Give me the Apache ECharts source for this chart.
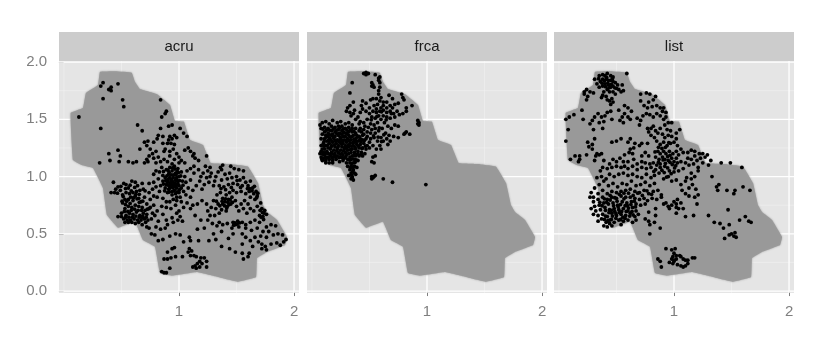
<!DOCTYPE html>
<html><head><meta charset="utf-8">
<script src="https://cdn.jsdelivr.net/npm/echarts@6/dist/echarts.min.js"></script>
<style>html,body{margin:0;background:#fff}#c{width:817px;height:350px}</style></head>
<body><div id="c"></div>
<script>
const panels = ['acru','frca','list'];
const xTicks = [1,2];
const yTicks = [0,0.5,1,1.5,2];
const xMajor = [1,2];
const xMinor = [0,0.5,1.5];
const yMajor = [0,0.5,1,1.5,2];
const yMinor = [0.25,0.75,1.25,1.75];
const outline = [[.313,1.915],[.45,1.92],[.589,1.907],[.617,1.828],[.661,1.764],[.806,1.72],[.922,1.624],[.965,1.485],[1.043,1.479],[1.096,1.319],[1.209,1.275],[1.276,1.118],[1.443,1.109],[1.6,1.086],[1.687,.943],[1.73,.751],[1.765,.69],[1.852,.62],[1.939,.472],[1.922,.402],[1.765,.341],[1.678,.288],[1.67,.122],[1.513,.081],[1.33,.125],[1.157,.166],[.939,.134],[.835,.157],[.791,.387],[.687,.445],[.617,.605],[.47,.553],[.374,.664],[.339,.9],[.252,1.074],[.154,1.1],[.078,1.144],[.058,1.555],[.165,1.598],[.191,1.729],[.296,1.799]];
const acru = [[.13,1.52],[.32,1.79],[.34,1.82],[.41,1.78],[.39,1.76],[.41,1.75],[.47,1.81],[.34,1.68],[.51,1.67],[.52,1.61],[.32,1.42],[.64,1.45],[.68,1.4],[.84,1.67],[.89,1.57],[.88,1.55],[.85,1.52],[.91,1.44],[.94,1.45],[.84,1.42],[1.01,1.42],[1.04,1.38],[1.07,1.35],[.39,1.2],[.47,1.23],[.49,1.18],[.4,1.14],[.48,1.13],[.31,1.12],[.56,1.13],[.6,1.12],[.63,1.13],[.66,1.24],[.7,1.3],[.73,1.31],[.78,1.3],[.81,1.33],[.86,1.35],[.82,1.36],[.72,1.27],[.75,1.24],[.74,1.18],[.72,1.15],[.7,1.12],[.73,1.13],[.77,1.2],[.78,1.16],[.8,1.22],[.82,1.17],[.8,1.12],[.84,1.13],[.87,1.15],[.88,1.24],[.86,1.29],[.9,1.29],[.93,1.29],[.96,1.28],[.92,1.35],[.94,1.33],[.96,1.36],[.98,1.34],[.91,1.32],[.87,1.22],[.92,1.22],[.95,1.24],[.98,1.2],[.92,1.18],[.96,1.15],[1,1.17],[1.02,1.14],[1.05,1.12],[1,1.12],[.9,1.13],[.94,1.11],[1.05,1.23],[1.08,1.25],[1.1,1.22],[1.12,1.18],[1.14,1.16],[1.17,1.14],[1.13,1.2],[1.24,1.18],
[1.27,1.08],[1.36,1.08],[1.38,1.1],[1.37,1.06],[1.45,1.09],[1.48,1.07],[1.52,1.06],[1.56,1.05],[1.28,1.03],[1.32,1],[1.34,1.04],[1.31,.96],[1.37,.97],[1.4,1.02],[1.42,.98],[1.44,1.03],[1.46,.99],[1.47,.94],[1.43,.93],[1.39,.91],[1.35,.92],[1.3,.92],[1.26,.95],[1.22,.93],[1.18,.96],[1.2,.89],[1.15,.92],[1.12,.88],[1.08,.9],[1.06,.95],[1.1,.97],[1.5,1],[1.53,.97],[1.56,.99],[1.51,.93],[1.55,.92],[1.58,.95],[1.6,.92],[1.62,.96],[1.64,.9],[1.61,.87],[1.65,.85],[1.68,.83],[1.67,.87],[1.66,.8],[1.62,.82],[1.58,.85],[1.54,.87],[1.5,.86],[1.47,.88],[1.44,.86],[1.41,.84],[1.38,.81],[1.36,.86],[1.33,.84],[1.4,.78],[1.43,.8],[1.46,.82],[1.49,.79],[1.42,.74],[1.38,.76],[1.45,.76],[1.41,.7],[1.37,.71],[1.34,.76],[1.3,.79],[1.32,.72],[1.28,.73],[1.25,.7],[1.27,.66],[1.31,.66],[1.35,.68],[1.5,.74],[1.54,.76],[1.57,.79],[1.6,.76],[1.52,.7],[1.56,.72],[1.59,.68],[1.62,.72],[1.65,.7],[1.68,.74],[1.71,.77],[1.72,.72],[1.74,.68],[1.73,.65],[1.7,.66],[1.66,.62],[1.7,.6],[1.76,.67],[1.62,.6],[1.58,.58],[1.55,.6],[1.51,.61],[1.49,.58],[1.47,.6],[1.46,.55],[1.52,.56],[1.42,.59],[1.38,.58],[1.35,.6],[1.33,.57],[1.29,.59],[1.25,.62],[1.37,.52],[1.3,.5],[1.43,.46],[1.47,.5],[1.55,.5],[1.58,.55],[1.63,.53],[1.68,.55],[1.73,.52],[1.76,.56],[1.8,.58],[1.84,.57],[1.78,.52],[1.82,.49],[1.76,.47],[1.71,.48],[1.66,.47],[1.62,.44],[1.58,.47],[1.55,.41],[1.64,.39],[1.69,.43],[1.72,.41],[1.75,.39],[1.8,.41],[1.85,.42],[1.88,.4],[1.93,.45],[1.9,.49],[1.86,.5],[1.91,.43],[1.76,.36],[1.72,.37],[1.61,.33],[1.55,.33],[1.6,.3],[1.56,.28],[1.49,.34],[1.44,.37],[1.37,.39],[1.32,.45],[1.26,.44],[1.17,.44],[1.04,.43],[1.1,.44],[1.09,.47],
[1.16,.54],[1.22,.55],[1.01,.49],[.97,.5],[.92,.48],[.86,.45],[.82,.44],[.79,.49],[.76,.5],[.74,.55],[.72,.56],[.8,.56],[.84,.54],[.88,.55],[.9,.58],[.95,.6],[.99,.62],[1.03,.61],[1.01,.65],[.98,.68],[.94,.64],[.89,.62],[.86,.67],[.82,.61],[.79,.66],[.76,.63],[.77,.68],[.81,.7],[.85,.74],[.89,.73],[.93,.72],[.97,.75],[1,.7],[1.04,.73],[1.07,.77],[1.1,.72],[1.14,.66],[1.19,.62],[1.12,.75],[1.16,.76],[1.2,.79],[1.24,.76],[1.1,.82],[1.06,.84],[1.02,.78],[.9,.34],[.94,.37],[.96,.38],[.97,.3],[.93,.29],[.9,.28],[.87,.28],[1.03,.3],[1.08,.34],[1.09,.37],[1.11,.35],[1.1,.31],[1.13,.31],[1.15,.3],[1.19,.29],[1.22,.29],[1.24,.26],[1.2,.24],[1.18,.26],[1.16,.24],[1.14,.22],[1.12,.21],[1.15,.2],[1.18,.21],[1.24,.21],[.85,.17],[.87,.16],[.89,.16],[.92,.2],
[.43,.95],[.44,.86],[.41,.86],[.45,.89],[.47,.91],[.49,.88],[.52,.94],[.54,.93],[.56,.9],[.59,.96],[.62,.95],[.64,.92],[.68,.94],[.69,.89],[.66,.88],[.63,.87],[.6,.86],[.57,.85],[.54,.86],[.51,.84],[.53,.8],[.56,.8],[.58,.82],[.6,.79],[.62,.83],[.65,.81],[.67,.78],[.7,.82],[.72,.76],[.74,.72],[.68,.73],[.65,.74],[.62,.75],[.59,.73],[.56,.74],[.53,.72],[.51,.77],[.5,.68],[.54,.66],[.57,.68],[.6,.67],[.63,.69],[.66,.66],[.69,.68],[.72,.67],[.7,.63],[.67,.62],[.64,.62],[.61,.63],[.58,.62],[.55,.62],[.52,.63],[.5,.65],[.47,.65],[.53,.6],[.56,.6],[.59,.6],[.62,.59],[.65,.6],[.68,.58],[.71,.6],[.73,.62],[.75,.73],[.78,.75],[.75,.8],[.78,.83],[.74,.86],[.77,.89],[.74,.94],[.78,.95],[.8,.91],[.83,.87],[.81,.82],[.86,.81],[.89,.78],[.92,.78],[.95,.8],[.98,.82],[.84,.92],[.86,.96],[.88,.9],[.9,.86],[.92,.9],[.94,.84],[.96,.88],[.98,.9],[1,.86],[1.02,.9],[1.04,.87],[.99,.94],[.97,.97],[.95,.93],[.93,.96],[.9,.95],[.88,.99],[.86,1.01],[.83,1.04],[.8,1.05],[.78,1.02],[.82,.98],[.91,1.02],[.94,1.05],[.97,1.03],[1,1],[1.03,.96],[1.05,1],[1.02,1.04],[.99,1.07],[.96,1.09],[.92,1.08],[.89,1.06],[.85,1.08],[1.07,1.05],[1.1,1.07],[1.13,1.09],[.95,.99],[.92,.99],[.98,.99],[.93,.93],[.96,.91],[.91,.89],[.94,.87],[.97,.85],[1,.92],[.89,.93],[1.01,.82],[.98,.79],[1.13,1.03],[1.17,1.06],[1.21,1.03],[1.25,1.05],[1.23,1.09],[1.19,1],[1.24,.99],[1.27,1],
[.515,.825],[.545,.785],[.575,.765],[.605,.815],[.635,.805],[.585,.705],[.615,.715],[.645,.705],[.525,.695],[.555,.695],[.595,.645],[.625,.655],[.655,.645],[.685,.655],[.565,.645],[.535,.645],[.675,.705],[.705,.705],[.725,.715],[.505,.785],[.535,.755],[.655,.775],[.685,.785],[.625,.845],[.585,.875],[.535,.895],[.575,.925],[.655,.845],[.705,.875],[.495,.915],[.465,.855],[.615,.905],[.695,.635],[.675,.645],[.715,.645],[.905,.925],[.925,.945],[.945,.955],[.965,.945],[.985,.965],[1.005,.965],[.915,1.035],[.935,1.015],[.955,1.015],[.975,1.015],[.995,1.035],[.935,.975],[.885,.965],[.865,.935],[.905,.975],[.955,.875],[.985,.865],[.915,.865],[.875,.875],[.945,.905],[.975,.925],[1.005,.885],[.925,.915],[.895,1.005],[.865,1.045],[.945,1.075],[.985,1.045],[1.015,1.005],[1.035,.925],[.965,1.065],[.905,1.055],[1.405,.805],[1.425,.775],[1.445,.795],[1.395,.745],[1.415,.725],[1.435,.755],[1.375,.785],[1.465,.775],[1.355,.745],[1.325,.785],[1.705,.705],[1.725,.685],[1.745,.705],[1.715,.645],[1.735,.625],[1.485,.595],[1.505,.585],[1.525,.595],[1.475,.575],[1.615,.895],[1.635,.875],[1.655,.915],[1.595,.895],[1.685,.855],[1.675,.815],[1.455,.905],[1.405,.885],[1.365,.895],[1.505,.965],[1.535,.905]];
const frca = [[.45,1.9],[.47,1.91],[.49,1.9],[.47,1.89],[.55,1.89],[.58,1.86],[.59,1.87],[.58,1.84],[.59,1.82],[.52,1.82],[.53,1.8],[.54,1.78],[.52,1.79],[.35,1.82],[.33,1.73],[.59,1.78],[.58,1.75],[.58,1.72],[.6,1.69],[.56,1.68],[.53,1.68],[.51,1.67],[.59,1.66],[.67,1.71],[.7,1.68],[.78,1.72],[.79,1.69],[.8,1.67],[.87,1.62],[.82,1.6],[.72,1.63],[.75,1.64],[.68,1.62],[.65,1.65],[.62,1.62],[.57,1.63],[.54,1.62],[.5,1.6],[.47,1.64],[.44,1.66],[.43,1.62],[.36,1.65],[.33,1.62],[.31,1.6],[.3,1.57],[.33,1.56],[.36,1.55],[.34,1.53],[.37,1.58],[.44,1.59],[.47,1.57],[.5,1.55],[.53,1.57],[.56,1.59],[.59,1.57],[.62,1.58],[.65,1.56],[.68,1.57],[.71,1.55],[.74,1.57],[.76,1.54],[.79,1.55],[.82,1.57],[.72,1.52],[.68,1.51],[.65,1.52],[.62,1.53],[.58,1.53],[.55,1.51],[.52,1.52],[.48,1.5],[.45,1.47],[.41,1.46],[.38,1.5],[.92,1.49],[.93,1.47],[.93,1.45],[.92,1.46],[.72,1.45],[.75,1.44],[.82,1.39],[.81,1.38],[.8,1.37],[.85,1.37],[.71,1.35],[.75,1.34],[.69,1.42],[.66,1.44],[.63,1.47],[.6,1.5],[.57,1.47],[.54,1.45],[.51,1.46],[.61,1.42],[.58,1.4],[.55,1.38],[.64,1.38],[.67,1.36],[.65,1.33],[.68,1.31],[.66,1.28],[.62,1.31],[.6,1.34],[.57,1.31],[.59,1.27],[.56,1.24],[.6,1.24],[.53,1.27],[.5,1.3],[.47,1.33],[.44,1.36],[.41,1.4],[.38,1.42],[.35,1.45],[.32,1.47],[.29,1.46],[.25,1.48],[.22,1.47],[.18,1.49],[.15,1.46],[.12,1.48],[.09,1.47],[.07,1.45],[.08,1.42],[.11,1.43],[.14,1.42],[.17,1.44],[.2,1.43],[.23,1.44],[.26,1.44],[.29,1.42],[.32,1.43],[.35,1.42],[.38,1.38],[.41,1.35],[.44,1.32],[.35,1.39],[.32,1.39],[.29,1.38],[.26,1.4],[.23,1.41],[.2,1.39],[.17,1.4],[.14,1.38],[.11,1.39],[.09,1.37],[.08,1.33],[.11,1.33],[.14,1.35],[.17,1.36],[.2,1.35],[.23,1.36],[.26,1.37],[.29,1.35],[.32,1.36],[.35,1.35],[.38,1.33],[.4,1.31],[.37,1.3],[.34,1.32],[.31,1.33],[.28,1.32],[.25,1.33],[.22,1.32],[.19,1.33],[.16,1.32],[.13,1.31],[.1,1.29],[.08,1.27],[.09,1.24],[.12,1.27],[.15,1.29],[.18,1.3],[.21,1.29],[.24,1.3],[.27,1.29],[.3,1.3],[.33,1.29],[.36,1.27],[.39,1.28],[.42,1.28],[.45,1.29],[.48,1.27],[.5,1.25],[.47,1.24],[.44,1.25],[.41,1.25],[.38,1.24],[.35,1.24],[.32,1.26],[.29,1.27],[.26,1.26],[.23,1.27],[.2,1.26],[.17,1.27],[.14,1.25],[.11,1.24],[.08,1.22],[.07,1.2],[.1,1.21],[.13,1.22],[.16,1.24],[.19,1.23],[.22,1.24],[.25,1.23],[.28,1.24],[.31,1.23],[.34,1.21],[.37,1.21],[.4,1.22],[.43,1.21],[.46,1.2],[.44,1.18],[.41,1.18],[.38,1.18],[.35,1.18],[.32,1.2],[.29,1.21],[.26,1.2],[.23,1.21],[.2,1.2],[.17,1.21],[.14,1.2],[.11,1.19],[.08,1.17],[.1,1.16],[.13,1.17],[.16,1.18],[.19,1.17],[.22,1.18],[.25,1.17],[.28,1.16],[.31,1.15],[.34,1.15],[.37,1.15],[.4,1.14],[.09,1.14],[.12,1.14],[.15,1.15],[.18,1.14],[.27,1.14],[.3,1.12],[.33,1.12],[.36,1.12],[.37,1.09],[.34,1.09],[.31,1.09],[.33,1.06],[.36,1.06],[.39,1.08],[.34,1.03],[.37,1.03],[.32,1.01],[.35,1],[.38,1.02],[.34,.98],[.36,.97],[.35,.99],[.53,1.17],[.55,1.18],[.52,1.13],[.54,1.12],[.52,1],[.53,.99],[.54,1],[.52,.98],[.62,.98],[.7,.95],[.99,.93],[.55,1.01],[.42,1.42],[.45,1.41],[.48,1.39],[.51,1.38],[.48,1.35],[.51,1.33],[.54,1.34],[.45,1.37],[.43,1.39],[.52,1.41],[.55,1.42],[.56,1.56],[.6,1.6],[.4,1.52],[.42,1.56],[.62,1.65],[.65,1.6],[.69,1.55],[.7,1.6],[.18,1.37],[.24,1.38],[.3,1.25],[.27,1.19],[.33,1.17],[.21,1.15],[.12,1.12],[.15,1.12],[.18,1.12],[.24,1.13],[.36,1.36],[.39,1.36],[.42,1.33],[.21,1.31],[.27,1.35],[.15,1.37],[.12,1.36],[.46,1.44],[.49,1.43],[.42,1.48],
[.125,1.345],[.155,1.335],[.185,1.345],[.215,1.375],[.245,1.345],[.275,1.385],[.305,1.375],[.335,1.345],[.365,1.325],[.395,1.345],[.425,1.305],[.455,1.315],[.105,1.265],[.135,1.275],[.165,1.255],[.195,1.275],[.225,1.255],[.255,1.285],[.285,1.255],[.315,1.275],[.345,1.265],[.375,1.255],[.405,1.265],[.435,1.245],[.465,1.265],[.095,1.195],[.125,1.205],[.155,1.195],[.185,1.195],[.215,1.225],[.245,1.195],[.275,1.225],[.305,1.195],[.335,1.235],[.365,1.185],[.395,1.195],[.425,1.195],[.085,1.155],[.115,1.165],[.145,1.165],[.175,1.165],[.205,1.175],[.235,1.165],[.265,1.165],[.295,1.175],[.325,1.145],[.355,1.155],[.385,1.145],[.105,1.305],[.145,1.315],[.175,1.305],[.205,1.315],[.235,1.315],[.265,1.315],[.295,1.315],[.325,1.315],[.355,1.295],[.385,1.305],[.415,1.315],[.095,1.415],[.125,1.405],[.155,1.405],[.185,1.415],[.215,1.405],[.245,1.425],[.275,1.415],[.305,1.405],[.335,1.405],[.365,1.395],[.335,1.075],[.355,1.045],[.345,1.115],[.375,1.125],[.355,1.085],[.345,1.015],[.535,1.355],[.575,1.345],[.605,1.305],[.625,1.365],[.585,1.425],[.515,1.495],[.645,1.495],[.605,1.565],[.565,1.525]];
const list = [[.31,1.85],[.35,1.88],[.38,1.89],[.4,1.88],[.42,1.9],[.45,1.88],[.47,1.87],[.59,1.9],[.33,1.81],[.36,1.83],[.38,1.85],[.41,1.85],[.43,1.84],[.45,1.84],[.47,1.83],[.49,1.82],[.51,1.8],[.55,1.8],[.35,1.78],[.38,1.79],[.4,1.81],[.43,1.8],[.45,1.78],[.47,1.79],[.5,1.77],[.52,1.76],[.54,1.74],[.56,1.75],[.39,1.74],[.42,1.76],[.44,1.74],[.47,1.74],[.49,1.72],[.38,1.71],[.37,1.69],[.41,1.7],[.42,1.67],[.44,1.66],[.46,1.68],[.47,1.65],[.45,1.63],[.24,1.76],[.27,1.74],[.3,1.73],[.22,1.72],[.25,1.7],[.24,1.67],[.22,1.74],[.71,1.72],[.76,1.73],[.79,1.72],[.84,1.7],[.82,1.67],[.78,1.65],[.71,1.66],[.74,1.62],[.77,1.6],[.81,1.61],[.85,1.62],[.88,1.6],[.91,1.6],[.9,1.57],[.93,1.56],[.93,1.52],[.91,1.5],[.88,1.53],[.85,1.55],[.82,1.52],[.79,1.54],[.76,1.55],[.73,1.53],[.71,1.49],[.68,1.51],[.7,1.45],[.63,1.57],[.6,1.6],[.57,1.62],[.52,1.58],[.57,1.55],[.6,1.52],[.53,1.49],[.56,1.47],[.55,1.52],[.62,1.5],[.45,1.57],[.42,1.56],[.4,1.53],[.37,1.52],[.34,1.55],[.31,1.52],[.29,1.49],[.35,1.47],[.39,1.48],[.46,1.5],[.27,1.46],[.2,1.58],[.21,1.5],[.13,1.54],[.09,1.52],[.06,1.5],[.08,1.41],[.06,1.31],[.3,1.41],[.38,1.42],[.31,1.33],[.29,1.28],[.25,1.3],[.26,1.26],[.29,1.24],[.46,1.3],[.5,1.31],[.54,1.33],[.62,1.33],[.6,1.3],[.66,1.29],[.65,1.25],[.62,1.24],[.7,1.27],[.72,1.29],[.77,1.29],[.77,1.42],[.78,1.39],[.8,1.42],[.82,1.44],[.84,1.4],[.8,1.36],[.83,1.34],[.86,1.38],[.88,1.42],[.92,1.45],[.95,1.47],[.98,1.47],[.94,1.41],[.97,1.4],[.9,1.37],[.92,1.34],[.95,1.36],[.98,1.35],[1.02,1.38],[1.05,1.41],[1.02,1.33],[.85,1.31],[.88,1.28],[.91,1.3],[.94,1.27],[.97,1.29],[1,1.3],[1.03,1.27],[1.06,1.24],[.86,1.22],[.88,1.2],[.91,1.22],[.93,1.2],[.96,1.22],[.99,1.2],[1.02,1.22],[1.04,1.19],[1.08,1.21],[1.12,1.21],[1.15,1.23],[1.18,1.22],[1.22,1.2],[1.25,1.2],[1.27,1.17],[1.29,1.19],[1.32,1.14],[1.41,1.12],[1.49,1.12],[1.59,1.08],[1.12,1.16],[1.15,1.15],[1.18,1.18],[1.2,1.14],[1.23,1.16],[1.02,1.16],[.84,1.17],[.87,1.15],[.9,1.17],[.92,1.15],[.95,1.14],[.98,1.16],[1,1.13],[1.03,1.12],[1.06,1.13],[1.1,1.12],[1.13,1.1],[1.17,1.11],[1.21,1.08],[1.25,1.12],[.78,1.18],[.75,1.21],[.72,1.18],[.72,1.13],[.75,1.12],[.79,1.11],[.82,1.12],[.85,1.1],[.88,1.11],[.61,1.21],[.64,1.2],[.57,1.19],[.53,1.16],[.56,1.13],[.5,1.13],[.47,1.15],[.44,1.11],[.39,1.14],[.35,1.19],[.32,1.18],[.31,1.14],[.37,1.2],[.33,1.2],[.24,1.19],[.14,1.18],[.18,1.18],[.18,1.15],[.17,1.13],[.1,1.15],[.6,1.13],[.65,1.15],[.68,1.11],
[.36,1.05],[.38,1.08],[.42,1.07],[.46,1.08],[.5,1.09],[.54,1.08],[.57,1.09],[.6,1.07],[.64,1.09],[.68,1.06],[.72,1.08],[.76,1.07],[.8,1.08],[.84,1.06],[.88,1.08],[.92,1.09],[.96,1.05],[1,1.04],[1.04,1.05],[1.08,1.07],[1.15,1.03],[1.21,1.05],[1.3,1.1],[1.33,1.0],[1.11,.99],[1.15,.98],[1.18,1],[.33,.99],[.37,1],[.41,.98],[.44,1.02],[.48,1],[.52,1.02],[.56,1.03],[.6,1.01],[.64,1.02],[.68,1],[.72,.99],[.76,1.02],[.8,.99],[.83,1.01],[.87,1.03],[.91,.98],[.95,1],[.98,.96],[1.02,.97],[1.06,.93],[1.1,.96],[1.13,.9],[1.16,.93],[1.19,.89],[1.13,.83],[1.1,.85],[1.07,.88],[1.18,.82],[1.21,.84],[1.03,.8],[1.06,.77],[1.08,.72],[1.02,.73],[.98,.75],[1,.78],[.28,.86],[.31,.9],[.35,.93],[.39,.96],[.43,.92],[.47,.94],[.51,.91],[.55,.94],[.59,.93],[.63,.96],[.67,.92],[.71,.93],[.75,.95],[.79,.92],[.83,.94],[.86,.88],[.82,.87],[.78,.85],[.74,.88],[.7,.86],[.66,.87],[.62,.89],[.58,.88],[.54,.87],[.5,.86],[.46,.87],[.42,.85],[.38,.88],[.34,.85],[.3,.82],[.27,.82],[.3,.78],[.34,.8],[.38,.82],[.42,.8],[.46,.82],[.5,.81],[.54,.83],[.58,.82],[.62,.82],[.66,.81],[.7,.8],[.74,.81],[.77,.79],[.81,.81],[.85,.8],[.89,.82],[.75,.76],[.71,.75],[.67,.76],[.63,.78],[.59,.77],[.55,.78],[.51,.75],[.47,.77],[.43,.76],[.39,.77],[.35,.75],[.31,.74],[.28,.72],[.32,.7],[.36,.71],[.4,.73],[.44,.71],[.48,.72],[.52,.71],[.56,.72],[.6,.7],[.64,.73],[.67,.7],[.3,.67],[.34,.66],[.38,.67],[.42,.65],[.46,.68],[.5,.66],[.54,.67],[.58,.66],[.62,.68],[.66,.65],[.69,.67],[.34,.61],[.37,.63],[.41,.6],[.44,.62],[.48,.6],[.52,.62],[.56,.61],[.6,.62],[.64,.6],[.67,.62],[.39,.57],[.42,.56],[.46,.57],[.44,.59],[.54,.58],[.75,.63],[.78,.69],[.84,.72],[.78,.61],[.84,.66],[.83,.6],[.79,.58],[.88,.55],[.79,.5],[.89,.84],[.91,.76],[.93,.77],[.95,.74],[.96,.72],[1.02,.76],[1.04,.72],[1.1,.65],[1.17,.66],[1.2,.76],[1.02,.68],[1.3,.66],[1.4,.59],[1.48,.58],[1.35,.6],[1.38,.88],[1.37,.91],[1.39,.93],[1.46,.88],[1.53,.88],[1.6,.91],[1.66,.88],[1.52,.85],[1.47,.71],[1.57,.62],[1.62,.65],[1.65,.61],[1.67,.6],[1.43,.55],[1.48,.49],[1.5,.5],[1.53,.51],[1.52,.48],[1.54,.47],[1.44,.46],[.93,.37],[.98,.36],[1.01,.37],[1,.33],[.99,.3],[.98,.28],[1,.27],[1.02,.28],[1.02,.31],[.96,.25],[.99,.24],[1,.26],[1.03,.23],[1.06,.22],[1.08,.21],[1.1,.22],[1.12,.24],[1.12,.27],[1.1,.27],[1.08,.28],[1.06,.3],[1.05,.31],[1.16,.29],[1.18,.29],[.86,.28],[.88,.26],[.89,.21],
[.445,.795],[.475,.745],[.505,.785],[.535,.755],[.565,.805],[.595,.745],[.625,.755],[.655,.785],[.455,.705],[.485,.695],[.515,.735],[.545,.695],[.575,.745],[.605,.725],[.635,.695],[.665,.735],[.465,.655],[.495,.635],[.525,.685],[.555,.645],[.585,.695],[.615,.655],[.645,.665],[.405,.705],[.375,.745],[.435,.685],[.405,.655],[.355,.775],[.395,.805],[.525,.845],[.565,.855],[.605,.855],[.645,.835],[.685,.855],[.725,.835],[.765,.875],[.805,.845],[.575,.635],[.535,.625],[.495,.675],[.455,.625],[.425,.615],[.395,.625],[.485,.815],[.445,.835],[.415,.775],[.915,1.035],[.945,1.075],[.975,1.025],[.935,.995],[.895,1.055],[.865,1.125],[.925,1.115],[.965,1.125],[1.005,1.075],[.985,1.105],[.825,1.045],[.905,1.145],[.945,1.175],[.965,1.185],[1.015,1.095],[.835,1.215],[.865,1.255],[.895,1.245],[.925,1.255],[.955,1.295],[.395,1.835],[.425,1.815],[.455,1.805],[.415,1.865],[.375,1.815],[.405,1.785],[.435,1.775],[.465,1.855],[.345,1.855],[.485,1.775]];
const chart = echarts.init(document.getElementById('c'), null, {renderer:'canvas'});
const xMin=-0.043, xMax=2.043, yMin=-0.017, yMax=2.009;
const lefts=[59,307,554], gw=240, top0=61, gh=232;
const series=[], grids=[], xAxes=[], yAxes=[], graphics=[];
const gridLines=[...xMinor.map(v=>['x',v,.6]),...yMinor.map(v=>['y',v,.6]),...xMajor.map(v=>['x',v,1.3]),...yMajor.map(v=>['y',v,1.3])];
const pts={acru,frca,list};
panels.forEach((p,i)=>{
  grids.push({left:lefts[i],top:top0,width:gw,height:gh,show:true,backgroundColor:'#E5E5E5',borderWidth:0,containLabel:false});
  xAxes.push({type:'value',gridIndex:i,min:xMin,max:xMax,splitLine:{show:false},axisLine:{show:false},
    axisTick:{show:true,length:5,lineStyle:{color:'#7F7F7F',width:1},customValues:xTicks},
    axisLabel:{color:'#7F7F7F',fontFamily:'Liberation Sans',fontSize:15,margin:11,customValues:xTicks,formatter:v=>String(v)}});
  yAxes.push({type:'value',gridIndex:i,min:yMin,max:yMax,splitLine:{show:false},axisLine:{show:false},
    axisTick:{show:i===0,length:5,lineStyle:{color:'#7F7F7F',width:1},customValues:yTicks},
    axisLabel:{show:i===0,color:'#7F7F7F',fontFamily:'Liberation Sans',fontSize:15,margin:12,padding:[2,0,0,0],customValues:yTicks,formatter:v=>v.toFixed(1)}});
  series.push({type:'custom',xAxisIndex:i,yAxisIndex:i,silent:true,z:1,animation:false,clip:true,
    data:gridLines.map((g,k)=>[k]),
    renderItem:(params,api)=>{const g=gridLines[params.dataIndex];
      const a=g[0]==='x'?api.coord([g[1],yMin]):api.coord([xMin,g[1]]);
      const b=g[0]==='x'?api.coord([g[1],yMax]):api.coord([xMax,g[1]]);
      return {type:'line',shape:{x1:a[0],y1:a[1],x2:b[0],y2:b[1]},style:{stroke:g[2]>1?'#FFFFFF':'#F2F2F2',lineWidth:g[2]}};}});
  series.push({type:'custom',xAxisIndex:i,yAxisIndex:i,silent:true,z:2,animation:false,clip:true,
    data:outline,encode:{x:0,y:1},
    renderItem:(params,api)=>{ if(params.dataIndex!==0) return null;
      return {type:'polygon',shape:{points:outline.map(q=>api.coord(q)),smooth:0.06},
        style:{fill:'#999999',opacity:.96,shadowBlur:2,shadowColor:'#999999'}};}});
  series.push({type:'scatter',xAxisIndex:i,yAxisIndex:i,data:pts[p],symbolSize:3.8,z:3,animation:false,silent:true,large:false,
    itemStyle:{color:'#000000',opacity:1}});
  graphics.push({type:'rect',silent:true,shape:{x:lefts[i],y:32,width:gw,height:29},style:{fill:'#CCCCCC'}});
  graphics.push({type:'text',silent:true,x:lefts[i]+gw/2,y:47,style:{text:p,fill:'#1A1A1A',font:'15px "Liberation Sans"',align:'center',verticalAlign:'middle'}});
});
chart.setOption({animation:false,backgroundColor:'#FFFFFF',grid:grids,xAxis:xAxes,yAxis:yAxes,series,graphic:graphics});
</script></body></html>
